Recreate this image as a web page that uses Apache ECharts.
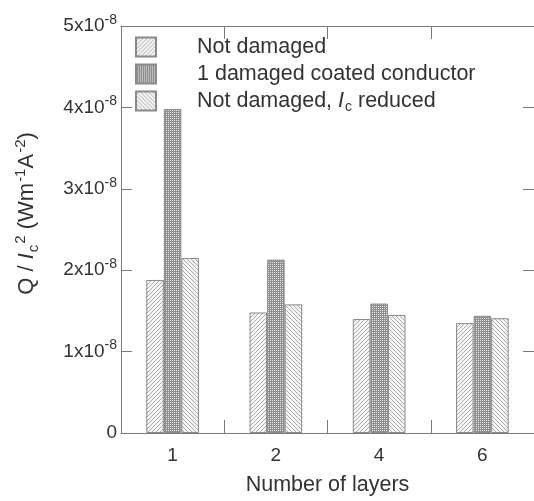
<!DOCTYPE html>
<html>
<head>
<meta charset="utf-8">
<script src="https://cdn.jsdelivr.net/npm/echarts@6/dist/echarts.min.js"></script>
<style>
  html, body { margin: 0; padding: 0; background: #fff; }
  #chart { width: 534px; height: 501px; }
</style>
</head>
<body>
<div id="chart"></div>
<script>
// Number of layers in the stack
const categories = ['1', '2', '4', '6'];
// Normalised loss Q / Ic^2 (W m^-1 A^-2)
const notDamaged = [1.88e-8, 1.48e-8, 1.40e-8, 1.35e-8];
const oneDamaged = [3.98e-8, 2.13e-8, 1.59e-8, 1.44e-8];
const icReduced  = [2.15e-8, 1.58e-8, 1.45e-8, 1.41e-8];
const seriesNames = ['Not damaged', '1 damaged coated conductor', 'Not damaged, Ic reduced'];

// Small repeating fill textures for the bars
function hatch(dir) {
  const c = document.createElement('canvas');
  c.width = 4; c.height = 4;
  const g = c.getContext('2d');
  g.fillStyle = '#f6f6f6';
  g.fillRect(0, 0, 4, 4);
  g.fillStyle = '#acacac';
  for (let i = 0; i < 4; i++) {
    const x = dir > 0 ? 3 - i : i;
    g.fillRect(x, i, 1, 1);
  }
  return c;
}
function checker() {
  const c = document.createElement('canvas');
  c.width = 4; c.height = 4;
  const g = c.getContext('2d');
  g.fillStyle = '#8e8e8e';
  g.fillRect(0, 0, 4, 4);
  g.fillStyle = '#e8e8e8';
  g.fillRect(0, 0, 1, 1);
  g.fillRect(2, 2, 1, 1);
  g.fillRect(2, 0, 1, 1);
  g.fillRect(0, 2, 1, 1);
  return c;
}

const textColor = '#333';
const axisColor = '#7a7a7a';
const font = 'Liberation Sans, Arial, sans-serif';

const chart = echarts.init(document.getElementById('chart'), null, { renderer: 'canvas' });

function barSeries(name, data, pattern) {
  return {
    name: name,
    type: 'bar',
    data: data,
    barGap: '0%',
    barCategoryGap: '49%',
    itemStyle: {
      color: { image: pattern, repeat: 'repeat' },
      borderColor: '#8a8a8a',
      borderWidth: 1
    }
  };
}

const tickStyle = { show: true, inside: true, length: 11, lineStyle: { color: axisColor, width: 1 } };
const lineStyle = { show: true, onZero: false, lineStyle: { color: axisColor, width: 1 } };

chart.setOption({
  animation: false,
  backgroundColor: '#fff',
  grid: { left: 121, right: 0, top: 26, bottom: 63 },
  legend: {
    left: 130, top: 31,
    orient: 'vertical',
    itemWidth: 20, itemHeight: 19, itemGap: 5,
    icon: 'rect',
    data: seriesNames,
    formatter: function (n) {
      if (n === seriesNames[2]) return 'Not damaged, {i|I}{sub|c} reduced';
      return n;
    },
    textStyle: {
      color: textColor, fontSize: 21.5, fontFamily: font, lineHeight: 22,
      padding: [0, 0, 0, 36],
      rich: {
        i: { fontSize: 21.5, fontStyle: 'italic', fontFamily: font, color: textColor, lineHeight: 22 },
        sub: { fontSize: 14, fontFamily: font, color: textColor, padding: [12, 0, 0, 1] }
      }
    }
  },
  xAxis: [{
    type: 'category',
    data: categories,
    name: 'Number of layers',
    nameLocation: 'middle',
    nameGap: 41,
    nameTextStyle: { color: textColor, fontSize: 21.5, fontFamily: font },
    axisLine: lineStyle,
    axisTick: Object.assign({}, tickStyle, { length: 13 }),
    axisLabel: { color: textColor, fontSize: 19, fontFamily: font, margin: 13 }
  }, {
    type: 'category',
    data: categories,
    position: 'top',
    axisLine: lineStyle,
    axisTick: Object.assign({}, tickStyle, { length: 13 }),
    axisLabel: { show: false }
  }],
  yAxis: [{
    type: 'value',
    min: 0, max: 5e-8, interval: 1e-8,
    splitLine: { show: false },
    axisLine: lineStyle,
    axisTick: tickStyle,
    name: 'Q / {i|I}{sub|c}{sup|2} (Wm{sup|-1}A{sup|-2})',
    nameLocation: 'middle',
    nameRotate: 90,
    nameGap: 80,
    nameTextStyle: {
      color: textColor, fontSize: 22, fontFamily: font,
      padding: [0, 0, 0, 32],
      rich: {
        i: { fontSize: 22, fontStyle: 'italic', fontFamily: font, color: textColor },
        sub: { fontSize: 15, fontFamily: font, color: textColor, padding: [14, 0, 0, 1] },
        sup: { fontSize: 15, fontFamily: font, color: textColor, padding: [0, 0, 12, 1] }
      }
    },
    axisLabel: {
      color: textColor, fontSize: 19, fontFamily: font, margin: 4,
      formatter: function (v) {
        const k = Math.round(v * 1e8);
        if (k === 0) return '0';
        return k + 'x10{sup|-8}';
      },
      rich: {
        sup: { fontSize: 14, fontFamily: font, color: textColor, padding: [0, 0, 12, 0] }
      }
    }
  }, {
    type: 'value',
    min: 0, max: 5e-8, interval: 1e-8,
    position: 'right',
    splitLine: { show: false },
    axisLine: lineStyle,
    axisTick: tickStyle,
    axisLabel: { show: false }
  }],
  series: [
    barSeries(seriesNames[0], notDamaged, hatch(1)),
    barSeries(seriesNames[1], oneDamaged, checker()),
    barSeries(seriesNames[2], icReduced, hatch(-1))
  ]
});
</script>
</body>
</html>
